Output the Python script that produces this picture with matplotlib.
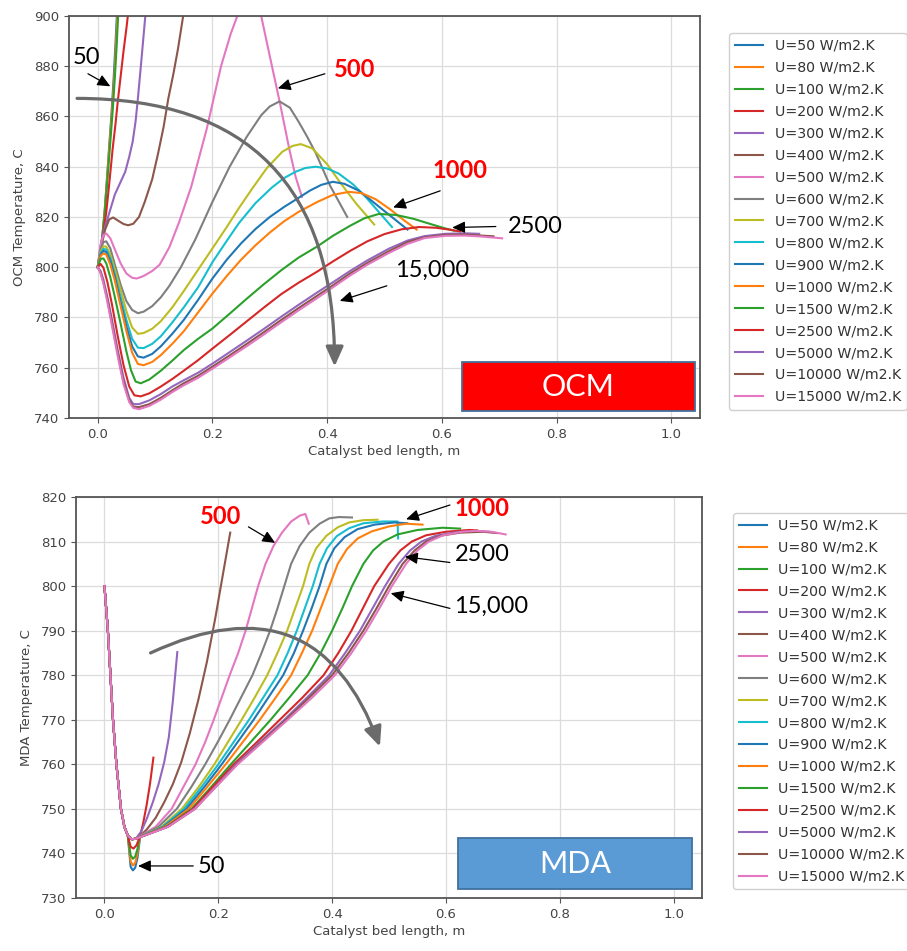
import matplotlib
matplotlib.use("Agg")
import matplotlib.pyplot as plt
from matplotlib.patches import Rectangle

# ---------------- data ----------------

U_LABELS = ["U=50 W/m2.K", "U=80 W/m2.K", "U=100 W/m2.K", "U=200 W/m2.K",
            "U=300 W/m2.K", "U=400 W/m2.K", "U=500 W/m2.K", "U=600 W/m2.K",
            "U=700 W/m2.K", "U=800 W/m2.K", "U=900 W/m2.K", "U=1000 W/m2.K",
            "U=1500 W/m2.K", "U=2500 W/m2.K", "U=5000 W/m2.K",
            "U=10000 W/m2.K", "U=15000 W/m2.K"]

# OCM reactor: bed length (m) and temperature (C) per U
ocm_x = [
    [0, 0.004, 0.008, 0.012, 0.016, 0.020, 0.024, 0.028, 0.031, 0.034],
    [0, 0.004, 0.008, 0.012, 0.016, 0.020, 0.025, 0.029, 0.032, 0.035],
    [0, 0.004, 0.008, 0.012, 0.017, 0.021, 0.026, 0.030, 0.033, 0.036],
    [0, 0.005, 0.010, 0.015, 0.020, 0.026, 0.031, 0.035, 0.040, 0.045, 0.050, 0.054],
    [0, 0.004, 0.008, 0.014, 0.022, 0.030, 0.040, 0.048, 0.055, 0.061, 0.066, 0.070, 0.076, 0.083, 0.087],
    [0, 0.006, 0.013, 0.020, 0.027, 0.035, 0.045, 0.053, 0.062, 0.072, 0.082, 0.095, 0.105, 0.115,
     0.123, 0.132, 0.140, 0.149, 0.153],
    [0, 0.005, 0.010, 0.015, 0.022, 0.030, 0.040, 0.050, 0.060, 0.068, 0.080, 0.095, 0.108, 0.125,
     0.142, 0.163, 0.190, 0.215, 0.232, 0.245, 0.258, 0.270, 0.285, 0.300, 0.318, 0.334, 0.345, 0.356],
    [0, 0.005, 0.010, 0.015, 0.022, 0.030, 0.040, 0.050, 0.060, 0.070, 0.080, 0.095, 0.110, 0.125,
     0.145, 0.170, 0.200, 0.230, 0.260, 0.285, 0.300, 0.317, 0.335, 0.350, 0.365, 0.380, 0.405, 0.435],
    [0, 0.005, 0.010, 0.015, 0.022, 0.030, 0.040, 0.050, 0.060, 0.070, 0.080, 0.095, 0.110, 0.130,
     0.150, 0.175, 0.200, 0.225, 0.246, 0.270, 0.295, 0.322, 0.340, 0.354, 0.374, 0.400, 0.425, 0.450, 0.482],
    [0, 0.005, 0.010, 0.015, 0.022, 0.030, 0.040, 0.050, 0.060, 0.070, 0.080, 0.095, 0.110, 0.130,
     0.150, 0.175, 0.200, 0.225, 0.246, 0.275, 0.304, 0.325, 0.345, 0.362, 0.380, 0.400, 0.420, 0.445,
     0.467, 0.490, 0.513],
    [0, 0.005, 0.010, 0.015, 0.022, 0.030, 0.040, 0.050, 0.060, 0.070, 0.080, 0.095, 0.110, 0.130,
     0.150, 0.175, 0.200, 0.225, 0.250, 0.275, 0.300, 0.325, 0.348, 0.370, 0.390, 0.410, 0.430, 0.455,
     0.480, 0.510, 0.540],
    [0, 0.005, 0.010, 0.015, 0.022, 0.030, 0.040, 0.050, 0.060, 0.070, 0.080, 0.095, 0.110, 0.130,
     0.150, 0.175, 0.200, 0.225, 0.250, 0.275, 0.300, 0.325, 0.350, 0.383, 0.410, 0.438, 0.460, 0.485,
     0.510, 0.535, 0.556],
    [0, 0.005, 0.010, 0.015, 0.022, 0.030, 0.040, 0.050, 0.058, 0.066, 0.075, 0.090, 0.110, 0.130,
     0.150, 0.175, 0.200, 0.230, 0.260, 0.290, 0.320, 0.350, 0.383, 0.410, 0.440, 0.465, 0.490, 0.520,
     0.550, 0.580, 0.605, 0.622],
    [0, 0.005, 0.010, 0.017, 0.025, 0.035, 0.045, 0.055, 0.064, 0.075, 0.090, 0.110, 0.130, 0.150,
     0.175, 0.200, 0.230, 0.260, 0.290, 0.320, 0.350, 0.383, 0.410, 0.440, 0.470, 0.500, 0.530, 0.560,
     0.590, 0.615, 0.632],
    [0, 0.005, 0.010, 0.017, 0.025, 0.035, 0.045, 0.055, 0.062, 0.072, 0.090, 0.110, 0.130, 0.150,
     0.175, 0.200, 0.230, 0.260, 0.290, 0.320, 0.350, 0.383, 0.410, 0.440, 0.470, 0.507, 0.540, 0.570,
     0.606, 0.640, 0.665],
    [0, 0.005, 0.010, 0.017, 0.025, 0.035, 0.045, 0.055, 0.062, 0.072, 0.090, 0.110, 0.130, 0.150,
     0.175, 0.200, 0.230, 0.260, 0.290, 0.320, 0.350, 0.383, 0.410, 0.440, 0.470, 0.507, 0.540, 0.570,
     0.606, 0.640, 0.690],
    [0, 0.005, 0.010, 0.017, 0.025, 0.035, 0.045, 0.055, 0.062, 0.072, 0.090, 0.110, 0.130, 0.150,
     0.175, 0.200, 0.230, 0.260, 0.290, 0.320, 0.350, 0.383, 0.410, 0.440, 0.470, 0.507, 0.540, 0.570,
     0.606, 0.640, 0.670, 0.705],
]
ocm_t = [
    [800, 805, 812, 822, 835, 848, 861, 876, 889, 903],
    [800, 805, 812, 822, 834, 847, 862, 876, 889, 903],
    [800, 805, 812, 821, 835, 847, 862, 876, 888, 902],
    [800, 807, 814, 822, 833, 847, 857, 866, 876, 886, 895, 903],
    [800, 807, 812, 817, 823, 829, 834, 838, 844, 850, 858, 867, 882, 900, 910],
    [800, 808, 815, 819, 819.8, 818.6, 817.2, 816.7, 817.3, 820, 826, 835, 845, 856,
     867, 877, 887, 900, 905],
    [800, 809, 812.8, 813.4, 811.5, 807, 801.5, 797.5, 795.8, 795.5, 796.5, 798.5, 801, 808,
     818, 832, 855, 880, 893, 901, 908, 909, 900, 884, 865, 847, 836, 828],
    [800, 807, 810, 810.3, 807.5, 801, 793, 786.5, 783, 781.7, 782.3, 784.5, 788, 792.6,
     800, 811, 826, 840, 852, 860.5, 864, 866, 863.5, 858, 852, 845.5, 832.5, 820],
    [800, 806, 808.3, 808.2, 805, 799, 791, 782.5, 776, 773.5, 773.8, 775.5, 778.5, 784,
     790.5, 799, 807.5, 816, 823.5, 831.5, 839.5, 846, 848.3, 849, 847.3, 841, 833, 825.5, 817],
    [800, 805.5, 807.3, 807, 803.5, 797, 788, 779, 771.5, 768, 767.8, 769.5, 772.5, 778,
     784, 792, 802, 810.5, 817.5, 825.5, 831.8, 835.5, 838, 839.5, 840, 839.3, 837.3, 833,
     828, 822, 816],
    [800, 805, 806.5, 806, 802.5, 796, 786, 776.5, 768.5, 764.5, 764, 765.5, 768.5, 773.5,
     779, 787, 795.5, 803, 809.5, 815.2, 820, 824, 827.3, 830.5, 832.8, 834, 833.2, 830.5,
     826, 820.5, 815],
    [800, 804.5, 805.5, 805, 801, 794.5, 784.5, 774.5, 766, 761.5, 761, 762.3, 765, 769.5,
     774.5, 782, 789.5, 796.5, 803, 808.7, 813.8, 818.3, 822, 826, 828.8, 830, 829.5, 827,
     823, 818.5, 815],
    [800, 803.3, 803.5, 801.5, 796, 788, 777.5, 766.5, 759, 754.5, 753.8, 755.3, 758.8, 762.8,
     767, 771.5, 775.6, 781.5, 787.5, 793.3, 798.8, 803.8, 808.3, 812.5, 816.5, 819.5, 821.2, 820.8,
     819.3, 817.2, 815.5, 814.5],
    [800, 801.3, 799.8, 794, 785, 772.5, 761, 752.5, 749, 748.6, 749.8, 752.5, 755.5, 758.8,
     763, 767.6, 773, 778.5, 784, 789.3, 793.8, 798.3, 802.3, 806.5, 810.3, 813.2, 815.1, 816,
     815.7, 814.9, 814.2],
    [800, 798.5, 795, 788, 779, 767, 756, 748, 745.5, 745.5, 747, 749.5, 752.5, 755,
     758, 761.6, 766.2, 770.8, 775.5, 780.3, 785, 790, 794, 798.5, 802.7, 807.3, 810.6, 812.4,
     813.3, 813.5, 813.3],
    [800, 798, 794, 787, 777.5, 765.5, 754.5, 747, 744.5, 744.3, 745.5, 748, 751, 753.8,
     756.8, 760.4, 764.9, 769.5, 774.2, 779, 783.7, 788.7, 792.8, 797.5, 801.7, 806.3, 810, 811.9,
     812.9, 813, 812.3],
    [800, 797.5, 793.5, 786, 776.5, 764.5, 753.5, 746.3, 744, 743.5, 744.8, 747.3, 750.3, 753,
     756, 759.6, 764.1, 768.6, 773.3, 778.1, 782.8, 787.8, 792, 796.7, 801, 805.6, 809.3, 811.6,
     812.5, 812.6, 812.2, 811.5],
]

# MDA reactor: common steep drop from the inlet, then one tail per U
mda_drop_x = [0, 0.006, 0.0105, 0.015, 0.021, 0.029, 0.035, 0.041]
mda_drop_t = [800, 790, 780, 770, 760, 750, 746, 744]
mda_x = [
    [0.046, 0.050, 0.054, 0.058, 0.062],
    [0.046, 0.050, 0.054, 0.058, 0.062],
    [0.046, 0.050, 0.054, 0.058, 0.062],
    [0.046, 0.051, 0.056, 0.062, 0.068, 0.074, 0.080, 0.086],
    [0.048, 0.055, 0.065, 0.075, 0.085, 0.095, 0.105, 0.113, 0.120, 0.128],
    [0.048, 0.055, 0.065, 0.075, 0.090, 0.105, 0.120, 0.135, 0.150, 0.165, 0.180, 0.195, 0.210, 0.221],
    [0.048, 0.055, 0.090, 0.118, 0.139, 0.160, 0.177, 0.192, 0.206, 0.220, 0.235, 0.248, 0.259,
     0.270, 0.283, 0.297, 0.312, 0.328, 0.343, 0.353, 0.359],
    [0.048, 0.055, 0.095, 0.127, 0.153, 0.177, 0.199, 0.220, 0.240, 0.260, 0.276, 0.291, 0.304,
     0.316, 0.328, 0.343, 0.360, 0.378, 0.395, 0.412, 0.435],
    [0.048, 0.055, 0.100, 0.136, 0.166, 0.193, 0.217, 0.241, 0.264, 0.286, 0.304, 0.321, 0.335,
     0.349, 0.360, 0.372, 0.390, 0.410, 0.430, 0.455, 0.480],
    [0.048, 0.055, 0.102, 0.140, 0.171, 0.200, 0.227, 0.254, 0.279, 0.304, 0.322, 0.338, 0.352,
     0.366, 0.378, 0.391, 0.408, 0.430, 0.455, 0.489, 0.515, 0.516],
    [0.048, 0.055, 0.104, 0.144, 0.176, 0.206, 0.234, 0.262, 0.288, 0.314, 0.333, 0.349, 0.364,
     0.378, 0.390, 0.404, 0.422, 0.445, 0.475, 0.510, 0.532],
    [0.048, 0.055, 0.106, 0.148, 0.181, 0.213, 0.243, 0.273, 0.301, 0.328, 0.347, 0.365, 0.380,
     0.395, 0.410, 0.426, 0.445, 0.470, 0.500, 0.530, 0.559],
    [0.048, 0.055, 0.109, 0.153, 0.188, 0.222, 0.257, 0.292, 0.325, 0.357, 0.380, 0.400, 0.418,
     0.435, 0.455, 0.472, 0.490, 0.515, 0.550, 0.594, 0.625],
    [0.048, 0.055, 0.110, 0.155, 0.191, 0.227, 0.268, 0.308, 0.348, 0.385, 0.411, 0.434, 0.454,
     0.474, 0.500, 0.520, 0.540, 0.565, 0.600, 0.641, 0.655],
    [0.048, 0.055, 0.111, 0.158, 0.195, 0.231, 0.273, 0.316, 0.356, 0.395, 0.423, 0.449, 0.471,
     0.493, 0.517, 0.537, 0.557, 0.582, 0.618, 0.655, 0.675],
    [0.048, 0.055, 0.112, 0.159, 0.196, 0.233, 0.276, 0.319, 0.360, 0.400, 0.429, 0.455, 0.478,
     0.500, 0.524, 0.545, 0.565, 0.590, 0.625, 0.665, 0.690],
    [0.048, 0.055, 0.112, 0.159, 0.196, 0.234, 0.278, 0.322, 0.365, 0.405, 0.434, 0.460, 0.483,
     0.505, 0.530, 0.550, 0.570, 0.595, 0.628, 0.653, 0.680, 0.705],
]
mda_t = [
    [737.0, 736.2, 736.8, 739.0, 743.0],
    [738.2, 737.3, 737.9, 740.0, 743.5],
    [739.6, 738.8, 739.3, 741.0, 744.0],
    [741.5, 741.1, 741.8, 743.6, 746.8, 750.8, 755.6, 761.5],
    [743.2, 743.3, 745, 748, 751.5, 755.5, 760.5, 766, 774, 785.2],
    [743.2, 743.3, 744.2, 745.5, 748, 751.5, 755.5, 760.5, 767, 774.5, 783, 793, 804, 812],
    [743.2, 743.3, 746, 750, 755, 760, 765, 770, 775, 780, 785, 790, 795, 800, 805, 809,
     812, 814.5, 815.8, 816.2, 814],
    [743.2, 743.3, 746, 750, 755, 760, 765, 770, 775, 780, 785, 790, 795, 800, 805, 809,
     812, 814, 815.2, 815.5, 815.4],
    [743.2, 743.3, 746, 750, 755, 760, 765, 770, 775, 780, 785, 790, 795, 800, 805, 808.5,
     811.3, 813.2, 814.3, 814.8, 814.9],
    [743.2, 743.3, 746, 750, 755, 760, 765, 770, 775, 780, 785, 790, 795, 800, 805, 808.5,
     811.2, 813, 814.1, 814.5, 814.5, 810.7],
    [743.2, 743.3, 746, 750, 755, 760, 765, 770, 775, 780, 785, 790, 795, 800, 805, 808.5,
     811, 812.8, 813.8, 814.3, 814.1],
    [743.2, 743.3, 746, 750, 755, 760, 765, 770, 775, 780, 785, 790, 795, 800, 805, 808.3,
     810.7, 812.3, 813.4, 814, 813.8],
    [743.2, 743.3, 746, 750, 755, 760, 765, 770, 775, 780, 785, 790, 795, 800, 805, 808,
     810, 811.6, 812.6, 813.1, 812.9],
    [743.2, 743.3, 746, 750, 755, 760, 765, 770, 775, 780, 785, 790, 795, 800, 805, 808,
     810, 811.4, 812.2, 812.6, 812.5],
    [743.2, 743.3, 746, 750, 755, 760, 765, 770, 775, 780, 785, 790, 795, 800, 805, 808,
     810, 811.3, 812.1, 812.3, 812.2],
    [743.2, 743.3, 746, 750, 755, 760, 765, 770, 775, 780, 785, 790, 795, 800, 805, 808,
     810, 811.3, 812, 812.2, 811.9],
    [743.2, 743.3, 746, 750, 755, 760, 765, 770, 775, 780, 785, 790, 795, 800, 805, 808,
     810, 811.4, 812.2, 812.4, 812.2, 811.6],
]

# ---------------- figure ----------------

ANNOT_FONT = ["Lato", "DejaVu Sans"]
TAB10 = plt.rcParams["axes.prop_cycle"].by_key()["color"]

fig = plt.figure(figsize=(9.07, 9.51), dpi=100)
ax1 = fig.add_axes([0.0761, 0.5605, 0.6957, 0.4227])
ax2 = fig.add_axes([0.0838, 0.0557, 0.6902, 0.4217])


def style_axes(ax, ylabel, ylim, yticks):
    ax.set_xlim(-0.05, 1.05)
    ax.set_ylim(*ylim)
    ax.set_xticks([0.0, 0.2, 0.4, 0.6, 0.8, 1.0])
    ax.set_yticks(yticks)
    ax.grid(True, color="#dcdcdc", lw=0.9)
    ax.set_axisbelow(True)
    for s in ax.spines.values():
        s.set_color("#555555")
        s.set_linewidth(1.3)
    ax.tick_params(colors="#555555", labelcolor="#444444", labelsize=9.5, length=3.5)
    ax.set_xlabel("Catalyst bed length, m", fontsize=9.5, color="#444444", labelpad=3)
    ax.set_ylabel(ylabel, fontsize=9.5, color="#444444", labelpad=6)


def add_legend(ax, x, y):
    ax.legend(loc="upper left", bbox_to_anchor=(x, y), bbox_transform=fig.transFigure,
              borderaxespad=0, fontsize=10.2, labelspacing=0.56, handlelength=2.0,
              framealpha=1, edgecolor="#d0d0d0", labelcolor="#333333")


def arrow(ax, tail, tip):
    ax.annotate("", xy=tip, xytext=tail,
                arrowprops=dict(arrowstyle="-|>,head_length=0.55,head_width=0.25",
                                color="black", lw=0.9, mutation_scale=14,
                                shrinkA=0, shrinkB=0))


def label(ax, x, y, s, red=False):
    ax.text(x, y, s, ha="center", va="center", fontsize=17, family=ANNOT_FONT,
            color="#ff0000" if red else "black", fontweight="bold" if red else "normal")


def big_arrow(ax, start, end, style):
    ax.annotate("", xy=end, xytext=start,
                arrowprops=dict(arrowstyle="-|>,head_length=0.85,head_width=0.38",
                                connectionstyle=style, color="#6b6b6b", lw=2.3,
                                mutation_scale=14, shrinkA=0, shrinkB=0))


def tag_box(ax, rect, face, text):
    ax.add_patch(Rectangle(rect[:2], rect[2], rect[3], transform=ax.transAxes,
                           facecolor=face, edgecolor="#41719c", lw=1.3, zorder=6))
    ax.text(rect[0] + rect[2] / 2, rect[1] + rect[3] / 2, text, transform=ax.transAxes,
            ha="center", va="center", color="white", fontsize=22, family=ANNOT_FONT, zorder=7)


# ---- OCM ----
for i, lab in enumerate(U_LABELS):
    ax1.plot(ocm_x[i], ocm_t[i], color=TAB10[i % 10], lw=1.5, label=lab)
style_axes(ax1, "OCM Temperature, C", (740, 900), range(740, 901, 20))
add_legend(ax1, 0.804, 0.965)

big_arrow(ax1, (-0.036, 867.2), (0.413, 760.5), "angle3,angleA=0,angleB=90")
label(ax1, -0.02, 883.5, "50")
arrow(ax1, (-0.017, 877), (0.022, 872))
label(ax1, 0.448, 878.5, "500", red=True)
arrow(ax1, (0.396, 877), (0.314, 871.2))
label(ax1, 0.632, 838.5, "1000", red=True)
arrow(ax1, (0.597, 830.4), (0.515, 823.8))
label(ax1, 0.762, 816.3, "2500")
arrow(ax1, (0.694, 816.2), (0.618, 815.8))
label(ax1, 0.583, 798.6, "15,000")
arrow(ax1, (0.504, 792.6), (0.422, 786.6))
tag_box(ax1, (0.623, 0.017, 0.369, 0.122), "#ff0000", "OCM")

# ---- MDA ----
for i, lab in enumerate(U_LABELS):
    ax2.plot(mda_drop_x + mda_x[i], mda_drop_t + mda_t[i], color=TAB10[i % 10], lw=1.5, label=lab)
style_axes(ax2, "MDA Temperature, C", (730, 820), range(730, 821, 10))
add_legend(ax2, 0.808, 0.4606)

big_arrow(ax2, (0.081, 785), (0.484, 764), "angle3,angleA=25,angleB=110")
label(ax2, 0.2035, 815.7, "500", red=True)
arrow(ax2, (0.253, 813.3), (0.300, 809.7))
label(ax2, 0.664, 817.5, "1000", red=True)
arrow(ax2, (0.607, 818.2), (0.530, 815.0))
label(ax2, 0.664, 807.0, "2500")
arrow(ax2, (0.607, 805.3), (0.528, 806.6))
label(ax2, 0.68, 795.4, "15,000")
arrow(ax2, (0.607, 795.0), (0.503, 798.4))
label(ax2, 0.188, 737.0, "50")
arrow(ax2, (0.156, 737.2), (0.059, 737.2))
tag_box(ax2, (0.611, 0.022, 0.373, 0.127), "#5b9bd5", "MDA")

fig.savefig("out.png", dpi=100)
